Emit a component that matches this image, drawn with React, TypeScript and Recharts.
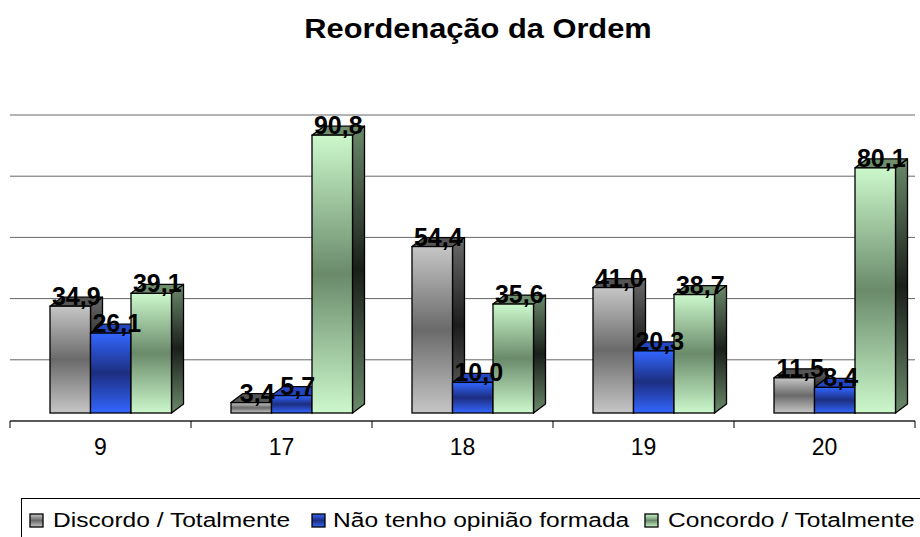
import React from 'react';
import { BarChart, Bar, XAxis, YAxis, CartesianGrid, LabelList } from 'recharts';

const categories = ['9', '17', '18', '19', '20'];
const discordo = [34.9, 3.4, 54.4, 41.0, 11.5];
const semOpiniao = [26.1, 5.7, 10.0, 20.3, 8.4];
const concordo = [39.1, 90.8, 35.6, 38.7, 80.1];
const seriesNames = ['Discordo / Totalmente', 'Não tenho opinião formada', 'Concordo / Totalmente'];
const yTicks = [0, 20, 40, 60, 80, 100];

const data = categories.map((cat, i) => ({
    cat,
    discordo: discordo[i],
    semOpiniao: semOpiniao[i],
    concordo: concordo[i],
}));

const FONT = '"Liberation Sans", Arial, sans-serif';
const W = 920;
const H = 537;
const MARGIN = { top: 115, right: 5, left: 10, bottom: 86 };
// 3D look: front face pushed right/up, depth going back-right
const SHIFT_X = 10;
const LIFT = 8;
const DX = 12;
const DY = 9;

const palettes = {
    discordo: { front: ['#c6c6c6', '#6a6a6a'], side: ['#6a6a6a', '#1c1c1c'], top: '#555555' },
    semOpiniao: { front: ['#3366ff', '#1c2e80'], side: ['#1c2e80', '#0c143a'], top: '#2446c0' },
    concordo: { front: ['#ccf8cc', '#6a8a6a'], side: ['#6a8a6a', '#1a1f1a'], top: '#6e8e6e' },
};

const Gradients = () => (
    <defs>
        {Object.entries(palettes).map(([key, p]) => (
            <React.Fragment key={key}>
                <linearGradient id={`front-${key}`} x1="0" y1="0" x2="0" y2="1">
                    <stop offset="0%" stopColor={p.front[0]} />
                    <stop offset="50%" stopColor={p.front[1]} />
                    <stop offset="100%" stopColor={p.front[0]} />
                </linearGradient>
                <linearGradient id={`side-${key}`} x1="0" y1="0" x2="0" y2="1">
                    <stop offset="0%" stopColor={p.side[0]} />
                    <stop offset="50%" stopColor={p.side[1]} />
                    <stop offset="100%" stopColor={p.side[0]} />
                </linearGradient>
            </React.Fragment>
        ))}
    </defs>
);

const make3DBar = (key: string) => (props: any) => {
    const { x, y, width, height } = props;
    if (x == null || y == null || !width) return <g />;
    const fx = x + SHIFT_X;
    const fy = y - LIFT;
    const w = width;
    const h = height;
    const top = `${fx},${fy} ${fx + w},${fy} ${fx + w + DX},${fy - DY} ${fx + DX},${fy - DY}`;
    const side = `${fx + w},${fy} ${fx + w + DX},${fy - DY} ${fx + w + DX},${fy + h - DY} ${fx + w},${fy + h}`;
    return (
        <g>
            <polygon points={side} fill={`url(#side-${key})`} stroke="#000" strokeWidth={1.3} strokeLinejoin="round" />
            <polygon points={top} fill={palettes[key].top} stroke="#000" strokeWidth={1.3} strokeLinejoin="round" />
            <rect x={fx} y={fy} width={w} height={h} fill={`url(#front-${key})`} stroke="#000" strokeWidth={1.3} />
        </g>
    );
};

const emptyShape = () => <g />;

const renderValue = (props: any) => {
    const { x, y, width, value } = props;
    if (x == null || y == null) return null;
    return (
        <text
            x={x + SHIFT_X + width / 2 + DX / 2}
            y={y - LIFT - 1}
            textAnchor="middle"
            fontFamily={FONT}
            fontWeight="bold"
            fontSize={25}
            fill="#000"
        >
            {Number(value).toFixed(1).replace('.', ',')}
        </text>
    );
};

const XTick = (props: any) => {
    const { x, y, payload, index } = props;
    const half = payload && payload.offset ? payload.offset : 90.5;
    return (
        <g>
            <line x1={x - half} x2={x - half} y1={y} y2={y + 7} stroke="#000" />
            {index === categories.length - 1 && (
                <line x1={x + half} x2={x + half} y1={y} y2={y + 7} stroke="#000" />
            )}
            <text x={x} y={y + 34} textAnchor="middle" fontFamily={FONT} fontSize={23} fill="#000">
                {payload.value}
            </text>
        </g>
    );
};

const keys = ['discordo', 'semOpiniao', 'concordo'];

const legendItems = [
    { name: seriesNames[0], key: 'discordo', mx: 30, tx: 53 },
    { name: seriesNames[1], key: 'semOpiniao', mx: 312, tx: 333 },
    { name: seriesNames[2], key: 'concordo', mx: 645, tx: 668 },
];

export default function App() {
    const common = {
        width: W,
        height: H,
        data,
        margin: MARGIN,
        barGap: 0,
        barSize: 40.5,
    };
    return (
        <div style={{ position: 'absolute', left: 0, top: 0, width: W, height: H, overflow: 'hidden', background: '#fff' }}>
            <BarChart {...common}>
                <Gradients />
                <CartesianGrid vertical={false} stroke="#666" />
                <YAxis hide domain={[0, 100]} ticks={yTicks} />
                <XAxis
                    dataKey="cat"
                    height={30}
                    axisLine={{ stroke: '#000' }}
                    tickLine={false}
                    tickSize={0}
                    tickMargin={0}
                    tick={<XTick />}
                    interval={0}
                />
                {keys.map((k, i) => (
                    <Bar key={k} dataKey={k} name={seriesNames[i]} shape={make3DBar(k)} isAnimationActive={false} />
                ))}
            </BarChart>

            {/* value labels on top of every bar */}
            <div style={{ position: 'absolute', left: 0, top: 0, pointerEvents: 'none' }}>
                <BarChart {...common}>
                    <YAxis hide domain={[0, 100]} ticks={yTicks} />
                    <XAxis dataKey="cat" height={30} axisLine={false} tickLine={false} tick={false} />
                    {keys.map((k) => (
                        <Bar key={k} dataKey={k} shape={emptyShape} isAnimationActive={false}>
                            <LabelList dataKey={k} content={renderValue} />
                        </Bar>
                    ))}
                </BarChart>
            </div>

            {/* title and legend */}
            <svg width={W} height={H} style={{ position: 'absolute', left: 0, top: 0, pointerEvents: 'none' }}>
                <text
                    transform="translate(478,38) scale(1.1,1)"
                    textAnchor="middle"
                    fontFamily={FONT}
                    fontWeight="bold"
                    fontSize={28}
                    fill="#000"
                >
                    Reordenação da Ordem
                </text>
                <rect x={21.5} y={498.5} width={920} height={60} fill="#fff" stroke="#000" strokeWidth={1} />
                {legendItems.map((it) => (
                    <g key={it.key}>
                        <rect x={it.mx} y={514} width={13} height={13} fill={`url(#front-${it.key})`} stroke="#000" strokeWidth={1.3} />
                        <text
                            transform={`translate(${it.tx},527) scale(1.17,1)`}
                            fontFamily={FONT}
                            fontSize={21}
                            fill="#000"
                        >
                            {it.name}
                        </text>
                    </g>
                ))}
            </svg>
        </div>
    );
}
